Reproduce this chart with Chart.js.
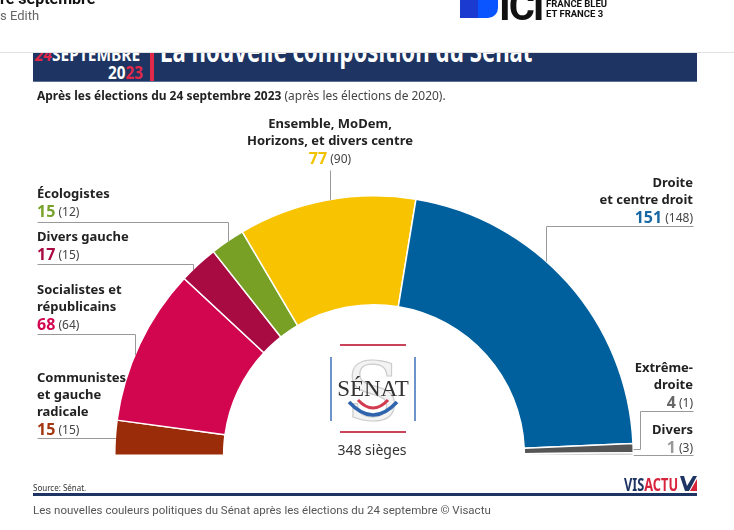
<!DOCTYPE html>
<html>
<head>
<meta charset="utf-8">
<script src="https://cdn.jsdelivr.net/npm/chart.js@4.4.0/dist/chart.umd.min.js"></script>
<style>
	html, body { margin: 0; padding: 0; background: #fff; }
	#page { position: relative; width: 734px; height: 530px; overflow: hidden; font-family: 'Noto Sans', sans-serif; }
	#chart { position: absolute; left: 0; top: 0; }
	.abs { position: absolute; white-space: nowrap; }
	#banner { position: absolute; left: 33px; top: 53px; width: 664px; height: 28px; background: #1e3462; overflow: hidden; border-bottom: 1px solid #5a6f96; }
</style>
</head>
<body>
<div id="page">
	<canvas id="chart" width="734" height="530"></canvas>

	<div class="abs" style="left:0;top:-11px;font:bold 16px Roboto, sans-serif;color:#111;">re septembre</div>
	<div class="abs" style="left:0;top:8px;font:13px Roboto, sans-serif;color:#666;">s Edith</div>
	<div class="abs" style="left:460px;top:0;width:18px;height:18px;background:#1a3ad0;"></div>
	<div class="abs" style="left:478px;top:0;width:20px;height:18px;background:#0a55ff;border-radius:0 0 10px 0;"></div>
	<div class="abs" style="left:499px;top:-17px;font:bold 40px Roboto, sans-serif;color:#111;letter-spacing:-2px;">ICI</div>
	<div class="abs" style="left:546px;top:-1px;font:bold 9.5px Roboto, sans-serif;color:#111;line-height:10px;">FRANCE BLEU<br>ET FRANCE 3</div>
	<div class="abs" style="left:0;top:52px;width:734px;height:1px;background:#e2e2e2;"></div>

	<div id="banner">
		<div class="abs" style="left:2px;top:-11px;font:bold 18px 'Noto Sans', sans-serif;color:#fff;transform:scaleX(0.86);transform-origin:left;"><span style="color:#e0284a;font-style:italic;">24</span>SEPTEMBRE</div>
		<div class="abs" style="left:75px;top:7px;font:bold 18px 'Noto Sans', sans-serif;color:#fff;transform:scaleX(0.85);transform-origin:left;">20<span style="color:#e0284a;">23</span></div>
		<div class="abs" style="left:117px;top:0;width:4px;height:28px;background:#e0284a;"></div>
		<div class="abs" style="left:127px;top:-23px;font:bold 30px 'Noto Sans', sans-serif;color:#fff;transform:scaleX(0.74);transform-origin:left;">La nouvelle composition du Sénat</div>
	</div>

	<div class="abs" style="left:37px;top:86px;font:13px 'Noto Sans', sans-serif;color:#222;transform:scaleX(0.92);transform-origin:left;"><b>Après les élections du 24 septembre 2023</b> <span style="color:#444;">(après les élections de 2020).</span></div>

	<svg class="abs" style="left:320px;top:335px;" width="110" height="105" viewBox="320 335 110 105">
		<line x1="340" y1="345" x2="406" y2="345" stroke="#c9435a" stroke-width="2"/>
		<line x1="340" y1="432" x2="406" y2="432" stroke="#c9435a" stroke-width="2"/>
		<line x1="331" y1="357" x2="331" y2="421" stroke="#3d70b8" stroke-width="1.5"/>
		<line x1="415" y1="357" x2="415" y2="421" stroke="#3d70b8" stroke-width="1.5"/>
		<text x="373" y="420" text-anchor="middle" font-family="'DejaVu Serif', serif" font-size="80" fill="#f3f3f3" stroke="#cccccc" stroke-width="1.2">S</text>
		<text x="373" y="396" text-anchor="middle" font-family="'Liberation Serif', serif" font-size="23" fill="#333">SÉNAT</text>
		<path d="M358 400 Q373 416 388 400" fill="none" stroke="#d23a4f" stroke-width="3"/>
		<path d="M349 402 Q373 428 397 402" fill="none" stroke="#2f63ad" stroke-width="3.5"/>
	</svg>
	<div class="abs" style="left:322px;top:440px;width:100px;text-align:center;font:14px 'Noto Sans', sans-serif;color:#333;">348 sièges</div>

	<div class="abs" style="left:33px;top:482px;font:8px 'Noto Sans', sans-serif;color:#333;">Source: Sénat.</div>
	<div class="abs" style="left:624px;top:473px;font:bold 17px 'Noto Sans', sans-serif;transform:scaleX(0.75);transform-origin:left;"><span style="color:#1e3462;">VIS</span><span style="color:#d8233d;">ACTU</span></div>
	<svg class="abs" style="left:680px;top:476px;" width="17" height="15"><polygon points="0,0 4,0 7,10 13,0 17,0 9,15 5,15" fill="#1e3462"/><polygon points="10,15 17,3 17,15" fill="#d8233d"/></svg>
	<div class="abs" style="left:33px;top:493px;width:664px;height:3px;background:#1e3462;"></div>
	<div class="abs" style="left:33px;top:503px;font:11.5px Roboto, sans-serif;color:#555;">Les nouvelles couleurs politiques du Sénat après les élections du 24 septembre © Visactu</div>
</div>

<script>
// seat counts, counter-clockwise from the left of the hemicycle
const parties = ['Communistes et gauche radicale', 'Socialistes et républicains', 'Divers gauche', 'Écologistes',
	'Ensemble, MoDem, Horizons, et divers centre', 'Droite et centre droit', 'Extrême-droite', 'Divers'];
const seats2023 = [15, 68, 17, 15, 77, 151, 4, 1];
const seats2020 = [15, 64, 15, 12, 90, 148, 1, 3];
const partyColors = ['#9a2c0a', '#d1064f', '#a80a42', '#77a025', '#f8c300', '#005f9d', '#555555', '#a8a8a8'];
const numberColors = ['#a3360f', '#d1064f', '#a80a42', '#78a22a', '#f2c200', '#1767a3', '#666666', '#999999'];
const labelText = [
	['Communistes', 'et gauche', 'radicale'],
	['Socialistes et', 'républicains'],
	['Divers gauche'],
	['Écologistes'],
	['Ensemble, MoDem,', 'Horizons, et divers centre'],
	['Droite', 'et centre droit'],
	['Extrême-', 'droite'],
	['Divers'],
];

// where each label sits and how its leader line runs to the arc
const labelLayout = [
	{ x: 37, y: 378, align: 'left', path: [[37, 438]], to: 'y' },
	{ x: 37, y: 290, align: 'left', path: [[37, 334], [135, 334]], to: 'x' },
	{ x: 37, y: 237, align: 'left', path: [[37, 264], [193, 264]], to: 'x' },
	{ x: 37, y: 194, align: 'left', path: [[37, 222], [228, 222]], to: 'x' },
	{ x: 330, y: 124, align: 'center', path: [[330, 170]], to: 'x' },
	{ x: 693, y: 183, align: 'right', path: [[693, 226], [546, 226]], to: 'x' },
	{ x: 693, y: 368, align: 'right', path: [[693, 411], [640, 411], [640, 449]], to: 'y' },
	{ x: 693, y: 430, align: 'right', path: [[693, 455]], to: 'y' },
];

const labelsPlugin = {
	id: 'hemicycleLabels',
	afterDraw(chart) {
		const ctx = chart.ctx;
		const meta = chart.getDatasetMeta(0);
		const arc = meta.data[0];
		const cx = arc.x, cy = arc.y, R = arc.outerRadius;
		ctx.save();

		// leader lines
		ctx.strokeStyle = '#9a9a9a';
		ctx.lineWidth = 1;
		labelLayout.forEach((l) => {
			const pts = l.path.slice();
			const last = pts[pts.length - 1];
			let end;
			if (l.to === 'x') {
				const dx = last[0] - cx;
				end = [last[0], cy - Math.sqrt(Math.max(R * R - dx * dx, 0))];
			} else {
				const dy = cy - last[1];
				const side = l.align === 'left' ? -1 : 1;
				end = [cx + side * Math.sqrt(Math.max(R * R - dy * dy, 0)), last[1]];
			}
			ctx.beginPath();
			ctx.moveTo(pts[0][0] + 0.5, pts[0][1] + 0.5);
			for (let i = 1; i < pts.length; i++) ctx.lineTo(pts[i][0] + 0.5, pts[i][1] + 0.5);
			ctx.lineTo(end[0] + 0.5, end[1] + 0.5);
			ctx.stroke();
		});

		// label texts
		ctx.textBaseline = 'middle';
		labelLayout.forEach((l, i) => {
			let y = l.y;
			ctx.font = 'bold 13px "Noto Sans", sans-serif';
			ctx.fillStyle = '#222';
			ctx.textAlign = l.align;
			labelText[i].forEach((line) => {
				ctx.fillText(line, l.x, y);
				y += 17;
			});
			y += 1;
			const num = String(seats2023[i]);
			const prev = ' (' + seats2020[i] + ')';
			ctx.font = 'bold 16px "Noto Sans", sans-serif';
			const wNum = ctx.measureText(num).width;
			ctx.font = '12px "Noto Sans", sans-serif';
			const wPrev = ctx.measureText(prev).width;
			let x0 = l.x;
			if (l.align === 'right') x0 = l.x - wNum - wPrev;
			if (l.align === 'center') x0 = l.x - (wNum + wPrev) / 2;
			ctx.textAlign = 'left';
			ctx.font = 'bold 16px "Noto Sans", sans-serif';
			ctx.fillStyle = numberColors[i];
			ctx.fillText(num, x0, y);
			ctx.font = '12px "Noto Sans", sans-serif';
			ctx.fillStyle = '#444';
			ctx.fillText(prev, x0 + wNum, y + 1);
		});
		ctx.restore();
	},
};

let ctx = document.getElementById('chart').getContext('2d');
let hemicycle = new Chart(ctx, {
	type: 'doughnut',
	data: {
		labels: parties,
		datasets: [{
			data: seats2023,
			backgroundColor: partyColors,
			borderColor: '#ffffff',
			borderWidth: 1.5,
		}],
	},
	options: {
		responsive: false,
		animation: false,
		rotation: -90,
		circumference: 180,
		cutout: '58%',
		layout: { padding: { left: 114, top: 195, right: 100, bottom: 74 } },
		plugins: {
			legend: { display: false },
			tooltip: { enabled: false },
		},
	},
	plugins: [labelsPlugin],
});
</script>
</body>
</html>
